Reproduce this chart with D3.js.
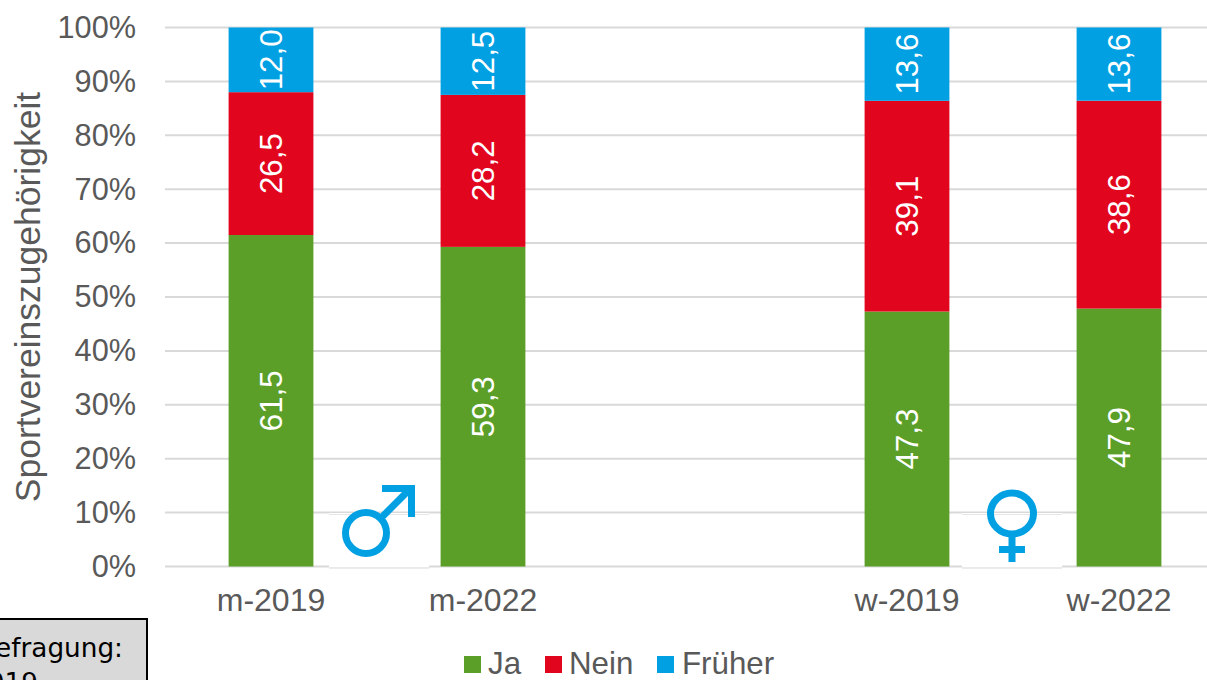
<!DOCTYPE html>
<html><head><meta charset="utf-8">
<script src="https://cdnjs.cloudflare.com/ajax/libs/d3/7.8.5/d3.min.js"></script>
<style>html,body{margin:0;padding:0;background:#fff;overflow:hidden}svg{display:block}
text{font-family:"Liberation Sans",Arial,sans-serif}</style></head><body><svg id="c" width="1207" height="680"></svg>
<script>
const categories=["m-2019","m-2022","","w-2019","w-2022"];
const ja=[61.5,59.3,null,47.3,47.9];
const nein=[26.5,28.2,null,39.1,38.6];
const frueher=[12.0,12.5,null,13.6,13.6];
const seriesNames=["Ja","Nein","Früher"];
const seriesColors=["#5B9F29","#E2051E","#00A0E3"];
const yTicks=[0,10,20,30,40,50,60,70,80,90,100];
const axisTitle="Sportvereinszugehörigkeit";
const boxLines=["Befragung:","2019"];

const svg=d3.select("#c");
const x=d3.scaleBand().domain(categories).range([165,1225]).paddingInner(0.6).paddingOuter(0.3);
const y=d3.scaleLinear().domain([0,100]).range([566.5,27.5]);
const TXT="#595959";

const ya=svg.append("g").attr("transform","translate(165,0)")
 .call(d3.axisLeft(y).tickValues(yTicks).tickFormat(d=>d+"%").tickSize(0).tickPadding(29));
ya.select(".domain").remove();
ya.selectAll("text").attr("font-size",30.7).attr("fill",TXT).style("font-family",'"Liberation Sans"');
svg.append("g").selectAll("line").data(yTicks).join("line")
 .attr("x1",165).attr("x2",1207).attr("y1",d=>y(d)).attr("y2",d=>y(d))
 .attr("stroke","#d9d9d9").attr("stroke-width",2);

const xa=svg.append("g").attr("transform","translate(0,566.5)")
 .call(d3.axisBottom(x).tickValues(categories.filter(c=>c)).tickSize(0).tickPadding(22));
xa.select(".domain").remove();
xa.selectAll("text").attr("font-size",32).attr("fill",TXT).style("font-family",'"Liberation Sans"');

const rows=categories.map((c,i)=>({c,Ja:ja[i],Nein:nein[i],"Früher":frueher[i]})).filter(r=>r.c);
rows.forEach(r=>{const t=r.Ja+r.Nein+r["Früher"];let acc=0;
 seriesNames.forEach((n,si)=>{
  const a=acc/t*100,b=(acc+r[n])/t*100;acc+=r[n];
  svg.append("rect").attr("x",x(r.c)).attr("width",x.bandwidth())
   .attr("y",y(b)).attr("height",y(a)-y(b)).attr("fill",seriesColors[si]);
  const cx=x(r.c)+x.bandwidth()/2,cy=(y(a)+y(b))/2;
  svg.append("text").attr("transform",`translate(${cx},${cy}) rotate(-90)`)
   .attr("text-anchor","middle").attr("dy","0.36em").attr("font-size",31.3).attr("fill","#fff")
   .text(r[n].toFixed(1).replace(".",","));
 });
});

svg.append("text").attr("transform","translate(40,297) rotate(-90)").attr("text-anchor","middle")
 .attr("font-size",35.5).attr("fill",TXT).text(axisTitle);

const BLUE="#00A0E3";
[[329,100],[962,100]].forEach(([px,w])=>{
 svg.append("rect").attr("x",px).attr("y",513).attr("width",w).attr("height",54.5).attr("fill","#fff");
 svg.append("line").attr("x1",px).attr("x2",px+w).attr("y1",568).attr("y2",568).attr("stroke","#e6e6e6").attr("stroke-width",1.5);
 svg.append("line").attr("x1",px).attr("x2",px+w).attr("y1",514.5).attr("y2",514.5).attr("stroke","#e6e6e6").attr("stroke-width",1);
});
const male=svg.append("g").attr("fill","none").attr("stroke",BLUE).attr("stroke-width",7);
male.append("circle").attr("cx",366).attr("cy",533).attr("r",20.5);
male.append("path").attr("d","M381 518L411 488M382 488.5H411.5V517");
const fem=svg.append("g").attr("fill","none").attr("stroke",BLUE).attr("stroke-width",7);
fem.append("ellipse").attr("cx",1012).attr("cy",513.5).attr("rx",21.5).attr("ry",20.5);
fem.append("path").attr("d","M1012 537V562M999 549.5H1025");

const lx=[464,545,657],tx=[488,569,682];
seriesNames.forEach((n,i)=>{
 svg.append("rect").attr("x",lx[i]).attr("y",656).attr("width",17).attr("height",17).attr("fill",seriesColors[i]);
 svg.append("text").attr("x",tx[i]).attr("y",673.5).attr("font-size",31.3).attr("fill",TXT).text(n);
});

svg.append("rect").attr("x",-10).attr("y",619).attr("width",157).attr("height",80)
 .attr("fill","#d9d9d9").attr("stroke","#000").attr("stroke-width",2);
boxLines.forEach((t,i)=>svg.append("text").attr("x",i?-29:-23).attr("y",657+i*35)
 .style("font-family",'"DejaVu Sans"').attr("font-size",26.3).attr("fill","#000").text(t));
</script></body></html>
